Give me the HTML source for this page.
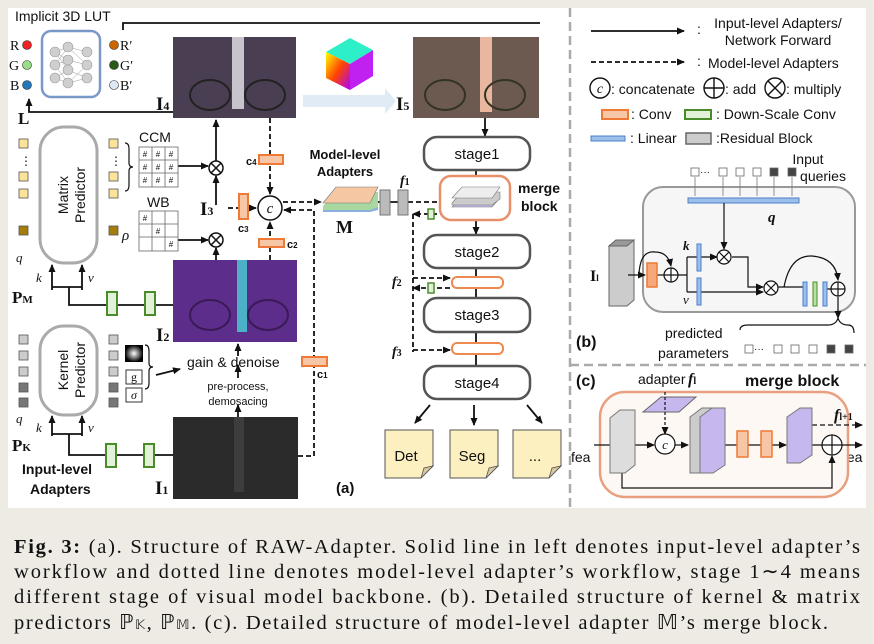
<!DOCTYPE html>
<html><head><meta charset="utf-8"><style>
body{margin:0;background:#eeeae4;}
svg{display:block}
text{font-family:"Liberation Sans",sans-serif;fill:#111}
.s{font-family:"Liberation Serif",serif}
</style></head><body>
<svg width="874" height="644" viewBox="0 0 874 644" xmlns="http://www.w3.org/2000/svg">
<defs>
<marker id="a" markerWidth="8" markerHeight="8" refX="7" refY="4" orient="auto" markerUnits="userSpaceOnUse"><path d="M0,0.5 L8,4 L0,7.5z" fill="#111"/></marker>
<linearGradient id="cube" x1="0" y1="0" x2="1" y2="1"><stop offset="0" stop-color="#ff0"/><stop offset=".5" stop-color="#f40"/><stop offset="1" stop-color="#a0f"/></linearGradient>
<radialGradient id="gl"><stop offset="0" stop-color="#fff"/><stop offset="1" stop-color="#000"/></radialGradient>
</defs>
<rect x="0" y="0" width="874" height="644" fill="#eeeae4"/>
<rect x="8" y="8" width="858" height="500" fill="#fff"/>
<line x1="570" y1="8" x2="570" y2="508" stroke="#aaa" stroke-width="2.5" stroke-dasharray="9,5"/>
<line x1="570" y1="365" x2="866" y2="365" stroke="#aaa" stroke-width="2.5" stroke-dasharray="9,5"/>

<g fill="none" stroke="#111" stroke-width="1.8">
<path d="M123,30 V23 H540"/>
<path d="M173,112 H29 V99" marker-end="url(#a)"/>
<path d="M178,166 H208" marker-end="url(#a)"/>
<path d="M178,240 H208" marker-end="url(#a)"/>
<path d="M216,161 V120" marker-end="url(#a)"/>
<path d="M216,205 V176" marker-end="url(#a)"/>
<path d="M216,260 V248" marker-end="url(#a)"/>
<path d="M52,290 V265" marker-end="url(#a)"/><path d="M82,290 V265" marker-end="url(#a)"/>
<path d="M52,287 H82 M69,287 V305 H173"/>
<path d="M52,436 V416" marker-end="url(#a)"/><path d="M82,436 V416" marker-end="url(#a)"/>
<path d="M52,434 H82 M69,434 V455 H173"/>
<path d="M238,417 V405" marker-end="url(#a)"/>
<path d="M238,378 V365" marker-end="url(#a)"/>
<path d="M238,356 V344" marker-end="url(#a)"/>
<path d="M156,375 L180,369" marker-end="url(#a)"/>
<path d="M485,118 V136" marker-end="url(#a)"/>
<path d="M476,171 V186" marker-end="url(#a)"/>
<path d="M476,220 V234" marker-end="url(#a)"/>
<path d="M476,268 V298 M476,332 V366"/>
<path d="M430,405 L415,423" marker-end="url(#a)"/>
<path d="M474,405 V425" marker-end="url(#a)"/>
<path d="M527,405 L542,423" marker-end="url(#a)"/>
<path d="M378,202 H383 M390,202 H398"/>
</g>
<g fill="none" stroke="#111" stroke-width="1.8" stroke-dasharray="5,3">
<path d="M228,208 H256" marker-end="url(#a)"/>
<path d="M270,118 V194" marker-end="url(#a)"/>
<path d="M270,260 V222" marker-end="url(#a)"/>
<path d="M298,456 H314 V210 H284" marker-end="url(#a)"/>
<path d="M283,202 H321" marker-end="url(#a)"/>
<path d="M408,202 H447" marker-end="url(#a)"/>
<path d="M445,214 H413" marker-end="url(#a)"/>
<path d="M413,214 V352"/>
<path d="M413,278 H450" marker-end="url(#a)"/>
<path d="M450,288 H413" marker-end="url(#a)"/>
<path d="M413,350 H450" marker-end="url(#a)"/>
</g>

<rect x="173" y="37" width="123" height="81" fill="#4a3e52"/>
<rect x="232" y="37" width="12" height="72" fill="#c8c4cc"/>
<ellipse cx="210" cy="95" rx="20" ry="15" fill="none" stroke="#222" stroke-width="2"/><ellipse cx="265" cy="95" rx="20" ry="15" fill="none" stroke="#222" stroke-width="2"/>
<rect x="413" y="37" width="126" height="81" fill="#6c5a50"/>
<rect x="480" y="37" width="12" height="75" fill="#e9b7a0"/>
<ellipse cx="445" cy="95" rx="20" ry="15" fill="none" stroke="#332" stroke-width="2"/><ellipse cx="505" cy="95" rx="20" ry="15" fill="none" stroke="#332" stroke-width="2"/>
<rect x="173" y="260" width="124" height="82" fill="#5c2d8a"/>
<rect x="237" y="260" width="10" height="72" fill="#4cb0c6"/>
<ellipse cx="210" cy="315" rx="20" ry="15" fill="none" stroke="#3a1a55" stroke-width="2"/><ellipse cx="268" cy="315" rx="20" ry="15" fill="none" stroke="#3a1a55" stroke-width="2"/>
<rect x="173" y="417" width="125" height="82" fill="#2b2b2b"/>
<rect x="234" y="417" width="10" height="75" fill="#3d3d3d"/>
<path d="M303,95 H385 V88 L396,101 L385,114 V107 H303z" fill="#e1ebf6"/>
<path d="M326,52 L350,38 L373,50 L350,64z" fill="#2ef0c8"/>
<path d="M326,52 L350,64 V90 L326,78z" fill="url(#cube)"/>
<path d="M350,64 L373,50 V76 L350,90z" fill="#c020f0"/>

<text x="15" y="21" font-size="14">Implicit 3D LUT</text>
<text class="s" x="156" y="110" font-size="19" font-weight="bold">I<tspan font-size="12">4</tspan></text>
<text class="s" x="396" y="110" font-size="19" font-weight="bold">I<tspan font-size="12">5</tspan></text>
<text class="s" x="18" y="124" font-size="17" font-weight="bold">L</text>
<text class="s" x="200" y="215" font-size="19" font-weight="bold">I<tspan font-size="12">3</tspan></text>
<text class="s" x="156" y="341" font-size="19" font-weight="bold">I<tspan font-size="12">2</tspan></text>
<text class="s" x="155" y="494" font-size="19" font-weight="bold">I<tspan font-size="12">1</tspan></text>
<text class="s" x="12" y="303" font-size="17" font-weight="bold">P<tspan font-size="11">M</tspan></text>
<text class="s" x="12" y="451" font-size="17" font-weight="bold">P<tspan font-size="11">K</tspan></text>
<text class="s" x="16" y="262" font-size="13" font-style="italic">q</text>
<text class="s" x="36" y="282" font-size="13" font-style="italic">k</text>
<text class="s" x="88" y="282" font-size="13" font-style="italic">v</text>
<text class="s" x="16" y="423" font-size="13" font-style="italic">q</text>
<text class="s" x="36" y="432" font-size="13" font-style="italic">k</text>
<text class="s" x="88" y="432" font-size="13" font-style="italic">v</text>
<text x="22" y="474" font-size="14" font-weight="bold">Input-level</text>
<text x="30" y="494" font-size="14" font-weight="bold">Adapters</text>
<text x="139" y="142" font-size="14">CCM</text>
<text x="147" y="207" font-size="14">WB</text>
<text class="s" x="122" y="240" font-size="15" font-style="italic">ρ</text>
<text x="187" y="367" font-size="14">gain &amp; denoise</text>
<text x="238" y="390" font-size="11" text-anchor="middle">pre-process,</text>
<text x="238" y="405" font-size="11" text-anchor="middle">demosacing</text>
<text x="345" y="159" font-size="13" font-weight="bold" text-anchor="middle">Model-level</text>
<text x="345" y="176" font-size="13" font-weight="bold" text-anchor="middle">Adapters</text>
<text class="s" x="336" y="233" font-size="18" font-weight="bold">M</text>
<text class="s" x="400" y="185" font-size="14" font-style="italic" font-weight="bold">f<tspan font-size="10" font-style="normal">1</tspan></text>
<text class="s" x="392" y="286" font-size="14" font-style="italic" font-weight="bold">f<tspan font-size="10" font-style="normal">2</tspan></text>
<text class="s" x="392" y="356" font-size="14" font-style="italic" font-weight="bold">f<tspan font-size="10" font-style="normal">3</tspan></text>
<text x="246" y="165" font-size="11" font-weight="bold">c<tspan font-size="8">4</tspan></text>
<text x="238" y="232" font-size="11" font-weight="bold">c<tspan font-size="8">3</tspan></text>
<text x="287" y="248" font-size="11" font-weight="bold">c<tspan font-size="8">2</tspan></text>
<text x="317" y="378" font-size="11" font-weight="bold">c<tspan font-size="8">1</tspan></text>
<text x="336" y="493" font-size="15" font-weight="bold">(a)</text>
<text x="518" y="193" font-size="14" font-weight="bold">merge</text>
<text x="521" y="211" font-size="14" font-weight="bold">block</text>

<rect x="42" y="31" width="58" height="66" rx="9" fill="#fff" stroke="#7a98c8" stroke-width="2.5"/>
<g stroke="#999" stroke-width="0.5">
<path d="M55,52 L68,47 M55,52 L68,60 M55,52 L68,70 M55,65 L68,47 M55,65 L68,60 M55,65 L68,83 M55,78 L68,70 M55,78 L68,83 M68,47 L87,52 M68,60 L87,65 M68,70 L87,78 M68,83 L87,65 M68,47 L87,65 M68,83 L87,78"/>
</g>
<g fill="#cfcfcf" stroke="#999" stroke-width="0.6">
<circle cx="55" cy="52" r="5"/><circle cx="55" cy="65" r="5"/><circle cx="55" cy="78" r="5"/>
<circle cx="68" cy="47" r="5"/><circle cx="68" cy="60" r="5"/><circle cx="68" cy="70" r="5"/><circle cx="68" cy="83" r="5"/>
<circle cx="87" cy="52" r="5"/><circle cx="87" cy="65" r="5"/><circle cx="87" cy="78" r="5"/>
</g>
<circle cx="27" cy="45" r="4.5" fill="#e22" stroke="#333" stroke-width=".6"/>
<circle cx="27" cy="65" r="4.5" fill="#9d8" stroke="#333" stroke-width=".6"/>
<circle cx="27" cy="85" r="4.5" fill="#27b" stroke="#333" stroke-width=".6"/>
<circle cx="114" cy="45" r="4.5" fill="#c60" stroke="#333" stroke-width=".6"/>
<circle cx="114" cy="65" r="4.5" fill="#2a5a18" stroke="#333" stroke-width=".6"/>
<circle cx="114" cy="85" r="4.5" fill="#dde8f5" stroke="#333" stroke-width=".6"/>
<text class="s" x="10" y="50" font-size="14">R</text><text class="s" x="9" y="70" font-size="14">G</text><text class="s" x="10" y="90" font-size="14">B</text>
<text class="s" x="120" y="50" font-size="14">R′</text><text class="s" x="120" y="70" font-size="14">G′</text><text class="s" x="120" y="90" font-size="14">B′</text>

<rect x="40" y="127" width="57" height="136" rx="24" fill="#fff" stroke="#aaa" stroke-width="3"/>
<text x="76" y="195" font-size="14" text-anchor="middle" transform="rotate(-90 76 195)"><tspan x="76" dy="-8">Matrix</tspan><tspan x="76" dy="17">Predictor</tspan></text>
<rect x="40" y="326" width="57" height="89" rx="24" fill="#fff" stroke="#aaa" stroke-width="3"/>
<text x="76" y="370" font-size="14" text-anchor="middle" transform="rotate(-90 76 370)"><tspan x="76" dy="-8">Kernel</tspan><tspan x="76" dy="17">Predictor</tspan></text>
<g stroke="#555" stroke-width=".8">
<rect x="19" y="139" width="9" height="9" fill="#fbe49a"/><rect x="19" y="172" width="9" height="9" fill="#fbe49a"/><rect x="19" y="189" width="9" height="9" fill="#fbe49a"/><rect x="19" y="226" width="9" height="9" fill="#a67c0c"/>
<rect x="109" y="139" width="9" height="9" fill="#fbe49a"/><rect x="109" y="172" width="9" height="9" fill="#fbe49a"/><rect x="109" y="189" width="9" height="9" fill="#fbe49a"/><rect x="109" y="226" width="9" height="9" fill="#a67c0c"/>
<rect x="19" y="335" width="9" height="9" fill="#ccc"/><rect x="19" y="351" width="9" height="9" fill="#ccc"/><rect x="19" y="367" width="9" height="9" fill="#ccc"/><rect x="19" y="383" width="9" height="9" fill="#777"/><rect x="19" y="398" width="9" height="9" fill="#777"/>
<rect x="109" y="335" width="9" height="9" fill="#ccc"/><rect x="109" y="351" width="9" height="9" fill="#ccc"/><rect x="109" y="367" width="9" height="9" fill="#ccc"/><rect x="109" y="383" width="9" height="9" fill="#777"/><rect x="109" y="398" width="9" height="9" fill="#777"/>
</g>
<text x="20" y="165" font-size="12">⋮</text><text x="110" y="165" font-size="12">⋮</text>
<path d="M125,143 q4,0 4,6 v14 q0,4 4,4 q-4,0 -4,4 v14 q0,6 -4,6" fill="none" stroke="#111" stroke-width="1.2"/>
<path d="M145,345 q4,0 4,6 v12 q0,4 4,4 q-4,0 -4,4 v12 q0,6 -4,6" fill="none" stroke="#111" stroke-width="1.2"/>
<g stroke="#666" stroke-width=".8" fill="#fff">
<rect x="139" y="147" width="39" height="40"/><path d="M152,147 V187 M165,147 V187 M139,160 H178 M139,173 H178"/>
<rect x="139" y="211" width="39" height="40"/><path d="M152,211 V251 M165,211 V251 M139,224 H178 M139,237 H178"/>
</g>
<g font-size="8" text-anchor="middle"><text x="145" y="157">#</text><text x="158" y="157">#</text><text x="171" y="157">#</text><text x="145" y="170">#</text><text x="158" y="170">#</text><text x="171" y="170">#</text><text x="145" y="183">#</text><text x="158" y="183">#</text><text x="171" y="183">#</text><text x="145" y="221">#</text><text x="158" y="234">#</text><text x="171" y="247">#</text></g>
<rect x="125" y="345" width="18" height="17" fill="url(#gl)"/>
<rect x="126" y="370" width="16" height="14" fill="#fff" stroke="#333"/><text class="s" x="134" y="381" font-size="12" text-anchor="middle">g</text>
<rect x="126" y="388" width="16" height="14" fill="#fff" stroke="#333"/><text class="s" x="134" y="399" font-size="12" font-style="italic" text-anchor="middle">σ</text>

<g fill="#fff" stroke="#111" stroke-width="1.5">
<circle cx="216" cy="168" r="7"/><path d="M211,163 L221,173 M221,163 L211,173"/>
<circle cx="216" cy="240" r="7"/><path d="M211,235 L221,245 M221,235 L211,245"/>
<circle cx="270" cy="208" r="12"/>
</g>
<text class="s" x="270" y="213" font-size="15" font-style="italic" text-anchor="middle">c</text>

<g fill="#f7c6a6" stroke="#ee7a35" stroke-width="2">
<rect x="259" y="155" width="24" height="9"/><rect x="239" y="194" width="9" height="25"/><rect x="259" y="239" width="25" height="8"/><rect x="302" y="357" width="25" height="9"/>
</g>
<g fill="#e3f1d8" stroke="#4a8c2a" stroke-width="2">
<rect x="107" y="292" width="10" height="23"/><rect x="145" y="292" width="10" height="23"/>
<rect x="106" y="444" width="10" height="23"/><rect x="144" y="444" width="10" height="23"/>
<rect x="428" y="209" width="6" height="10" stroke-width="1.5"/><rect x="428" y="283" width="6" height="10" stroke-width="1.5"/>
</g>
<path d="M323,208 L336,194 H378 V210 L370,212 H323z" fill="#8ab0e0"/>
<path d="M323,206 L336,192 H378 V207 L370,210 H323z" fill="#a8d8a0"/>
<path d="M323,203 L336,187 H378 L370,203z" fill="#f5c7a3" stroke="#777" stroke-width=".6"/>
<rect x="380" y="190" width="10" height="25" fill="#bbb" stroke="#777"/>
<rect x="398" y="190" width="10" height="25" fill="#bbb" stroke="#777"/>

<g fill="#fff" stroke="#555" stroke-width="2.5">
<rect x="424" y="137" width="106" height="33" rx="13"/>
<rect x="424" y="235" width="106" height="33" rx="13"/>
<rect x="424" y="298" width="106" height="34" rx="13"/>
<rect x="424" y="366" width="106" height="33" rx="13"/>
</g>
<g font-size="15" text-anchor="middle"><text x="477" y="159">stage1</text><text x="477" y="257">stage2</text><text x="477" y="320">stage3</text><text x="477" y="388">stage4</text></g>
<rect x="440" y="176" width="70" height="44" rx="11" fill="#fff" stroke="#e8906a" stroke-width="2.5"/>
<path d="M452,207 L462,198 H500 L492,207z" fill="#c6b8ee" stroke="#777" stroke-width=".6"/>
<path d="M452,203 L462,192 H500 V199 L492,205 H452z" fill="#ccc" stroke="#777" stroke-width=".6"/>
<path d="M452,198 L462,187 H500 L492,198z" fill="#eee" stroke="#777" stroke-width=".6"/>
<rect x="452" y="277" width="51" height="11" rx="5" fill="#fff" stroke="#ee8a50" stroke-width="2"/>
<rect x="452" y="343" width="51" height="11" rx="5" fill="#fff" stroke="#ee8a50" stroke-width="2"/>
<g fill="#fcf0c0" stroke="#555" stroke-width="1">
<path d="M385,430 H433 V466 L421,478 H385z"/><path d="M450,430 H498 V466 L486,478 H450z"/><path d="M513,430 H561 V466 L549,478 H513z"/>
</g>
<g fill="#d8c8a0" stroke="#555" stroke-width=".8"><path d="M433,466 L421,478 L424,468z"/><path d="M498,466 L486,478 L489,468z"/><path d="M561,466 L549,478 L552,468z"/></g>
<g font-size="15" text-anchor="middle"><text x="406" y="461">Det</text><text x="472" y="461">Seg</text><text x="535" y="461">...</text></g>

<path d="M591,31 H684" stroke="#111" stroke-width="1.8" marker-end="url(#a)"/>
<path d="M591,62 H684" stroke="#111" stroke-width="1.8" stroke-dasharray="5,3" marker-end="url(#a)"/>
<g font-size="14"><text x="697" y="34">:</text><text x="778" y="28" text-anchor="middle">Input-level Adapters/</text><text x="778" y="45" text-anchor="middle">Network Forward</text>
<text x="697" y="66">:</text><text x="708" y="68">Model-level Adapters</text>
<text x="611" y="94">: concatenate</text><text x="725" y="94">: add</text><text x="786" y="94">: multiply</text>
<text x="631" y="119">: Conv</text><text x="716" y="119">: Down-Scale Conv</text>
<text x="630" y="143">: Linear</text><text x="716" y="143">:Residual Block</text>
<text x="808" y="164" text-anchor="middle">Input</text><text x="823" y="181" text-anchor="middle">queries</text>
<text x="665" y="338">predicted</text><text x="658" y="358">parameters</text>
<text x="638" y="384">adapter</text>
<text x="571" y="462">fea</text><text x="843" y="462">fea</text>
</g>
<g fill="#fff" stroke="#111" stroke-width="1.4">
<circle cx="600" cy="88" r="10"/>
<circle cx="714" cy="88" r="10"/><path d="M704,88 H724 M714,78 V98"/>
<circle cx="775" cy="88" r="10"/><path d="M768,81 L782,95 M782,81 L768,95"/>
</g>
<text class="s" x="600" y="93" font-size="14" font-style="italic" text-anchor="middle">c</text>
<rect x="602" y="110" width="26" height="9" fill="#f7c6a6" stroke="#ee7a35" stroke-width="2"/>
<rect x="685" y="110" width="26" height="9" fill="#e3f1d8" stroke="#4a8c2a" stroke-width="2"/>
<rect x="591" y="136" width="34" height="5" fill="#9cc0ea" stroke="#4a80c8"/>
<rect x="686" y="133" width="25" height="11" fill="#ccc" stroke="#666" stroke-width="1.5"/>

<g stroke="#666" stroke-width=".8">
<rect x="691" y="168" width="8" height="8" fill="#fff"/><rect x="719" y="168" width="8" height="8" fill="#fff"/><rect x="736" y="168" width="8" height="8" fill="#fff"/><rect x="753" y="168" width="8" height="8" fill="#fff"/><rect x="770" y="168" width="8" height="8" fill="#444"/><rect x="788" y="168" width="8" height="8" fill="#444"/>
<rect x="745" y="345" width="8" height="8" fill="#fff"/><rect x="774" y="345" width="8" height="8" fill="#fff"/><rect x="791" y="345" width="8" height="8" fill="#fff"/><rect x="809" y="345" width="8" height="8" fill="#fff"/><rect x="827" y="345" width="8" height="8" fill="#444"/><rect x="845" y="345" width="8" height="8" fill="#444"/>
</g>
<text x="700" y="175" font-size="10">···</text><text x="754" y="352" font-size="10">···</text>
<rect x="643" y="187" width="212" height="125" rx="20" fill="#f6f6f6" stroke="#999" stroke-width="2"/>
<g stroke="#777" stroke-width=".8"><path d="M695,177 V196 M723,177 V196 M740,177 V196 M757,177 V196 M774,177 V196 M792,177 V196"/></g>
<rect x="688" y="198" width="111" height="5" fill="#9cc0ea" stroke="#4a80c8"/>
<text class="s" x="768" y="222" font-size="15" font-style="italic" font-weight="bold" fill="#555">q</text>
<path d="M609,246 L616,240 H634 V300 L627,306 H609z" fill="#ccc" stroke="#666"/>
<path d="M609,246 L616,240 H634 L627,246z" fill="#999" stroke="#666"/>
<text class="s" x="590" y="281" font-size="16" font-weight="bold">I<tspan font-size="9">l</tspan></text>
<g fill="none" stroke="#111" stroke-width="1.2">
<path d="M628,275 H645" marker-end="url(#a)"/>
<path d="M657,275 H664"/>
<path d="M639,275 Q640,250 655,252 Q668,252 671,266" marker-end="url(#a)"/>
<path d="M678,275 H687 M687,257 V292 M687,257 H697 M687,292 H697"/>
<path d="M700,257 H717" marker-end="url(#a)"/>
<path d="M724,203 V249" marker-end="url(#a)"/>
<path d="M732,257 H748 V287 H763" marker-end="url(#a)"/>
<path d="M700,292 H763" marker-end="url(#a)"/>
<path d="M778,287 H804 M827,289 H831"/>
<path d="M784,287 Q790,255 812,256 Q836,258 838,280" marker-end="url(#a)"/>
<path d="M838,297 V318" marker-end="url(#a)"/>
<path d="M740,330 q0,-5 8,-5 h80 q8,0 10,-7 q2,7 10,7 q6,0 6,8"/>
</g>
<rect x="647" y="263" width="10" height="24" fill="#f7a87a" stroke="#ee7a35" stroke-width="1.5"/>
<rect x="697" y="244" width="4" height="27" fill="#9cc0ea" stroke="#4a80c8"/>
<rect x="697" y="278" width="4" height="27" fill="#9cc0ea" stroke="#4a80c8"/>
<rect x="803" y="282" width="4" height="24" fill="#9cc0ea" stroke="#4a80c8"/>
<rect x="813" y="282" width="4" height="24" fill="#b8e0a0" stroke="#4a8c2a"/>
<rect x="823" y="282" width="4" height="24" fill="#9cc0ea" stroke="#4a80c8"/>
<g fill="#fff" stroke="#111" stroke-width="1.2">
<circle cx="671" cy="275" r="7"/><path d="M664,275 H678 M671,268 V282"/>
<circle cx="724" cy="257" r="7"/><path d="M719,252 L729,262 M729,252 L719,262"/>
<circle cx="771" cy="288" r="7"/><path d="M766,283 L776,293 M776,283 L766,293"/>
<circle cx="838" cy="289" r="7"/><path d="M831,289 H845 M838,282 V296"/>
</g>
<text class="s" x="683" y="250" font-size="13" font-style="italic" font-weight="bold" fill="#555">k</text>
<text class="s" x="683" y="304" font-size="13" font-style="italic" fill="#555">v</text>
<text x="576" y="347" font-size="16" font-weight="bold">(b)</text>

<text x="576" y="386" font-size="16" font-weight="bold">(c)</text>
<text class="s" x="688" y="384" font-size="16" font-style="italic" font-weight="bold">f<tspan font-size="10" font-style="normal">l</tspan></text>
<text x="745" y="386" font-size="16" font-weight="bold">merge block</text>
<rect x="600" y="392" width="248" height="105" rx="25" fill="#fdf8f3" stroke="#e8a080" stroke-width="2.5"/>
<path d="M643,412 L661,397 H696 L679,412z" fill="#c6b8ee" stroke="#666"/>
<g fill="none" stroke="#111" stroke-width="1.2">
<path d="M665,392 V434" stroke-dasharray="3,2" marker-end="url(#a)"/>
<path d="M594,445 H610 M634,445 H654" marker-end="url(#a)"/>
<path d="M674,445 H688" marker-end="url(#a)"/>
<path d="M720,445 H737 M748,445 H761 M772,445 H786" marker-end="url(#a)"/>
<path d="M810,445 H822 M842,445 H862" marker-end="url(#a)"/>
<path d="M812,425 H862" stroke-dasharray="5,3" marker-end="url(#a)"/>
<path d="M622,473 V488 H832 V456" marker-end="url(#a)"/>
</g>
<path d="M610,418 L620,410 H635 V465 L625,473 H610z" fill="#ddd" stroke="#777"/>
<path d="M690,417 L702,408 H712 V465 L702,473 H690z" fill="#ccc" stroke="#777"/>
<path d="M700,417 L712,408 H725 V465 L713,473 H700z" fill="#c6b8ee" stroke="#777"/>
<path d="M787,417 L800,408 H812 V455 L800,463 H787z" fill="#c6b8ee" stroke="#777"/>
<rect x="737" y="431" width="11" height="26" fill="#f7c6a6" stroke="#ee7a35" stroke-width="1.5"/>
<rect x="761" y="431" width="11" height="26" fill="#f7c6a6" stroke="#ee7a35" stroke-width="1.5"/>
<circle cx="665" cy="444" r="10" fill="#fff" stroke="#111" stroke-width="1.2"/>
<text class="s" x="665" y="449" font-size="13" font-style="italic" text-anchor="middle">c</text>
<circle cx="832" cy="445" r="10" fill="#fff" stroke="#111" stroke-width="1.2"/><path d="M822,445 H842 M832,435 V455" stroke="#111" stroke-width="1.2"/>
<text class="s" x="834" y="420" font-size="16" font-style="italic" font-weight="bold">f<tspan font-size="10" font-style="normal">l+1</tspan></text>

<g font-size="20.5">
<text class="s" x="14" y="553" textLength="846" lengthAdjust="spacing"><tspan font-weight="bold">Fig. 3:</tspan> (a). Structure of RAW-Adapter. Solid line in left denotes input-level adapter’s</text>
<text class="s" x="14" y="578" textLength="846" lengthAdjust="spacing">workflow and dotted line denotes model-level adapter’s workflow, stage 1∼4 means</text>
<text class="s" x="14" y="603" textLength="846" lengthAdjust="spacing">different stage of visual model backbone. (b). Detailed structure of kernel &amp; matrix</text>
<text class="s" x="14" y="629" textLength="814" lengthAdjust="spacing">predictors ℙ<tspan font-size="13">𝕂</tspan>, ℙ<tspan font-size="13">𝕄</tspan>. (c). Detailed structure of model-level adapter 𝕄’s merge block.</text>
</g>
</svg>
</body></html>
